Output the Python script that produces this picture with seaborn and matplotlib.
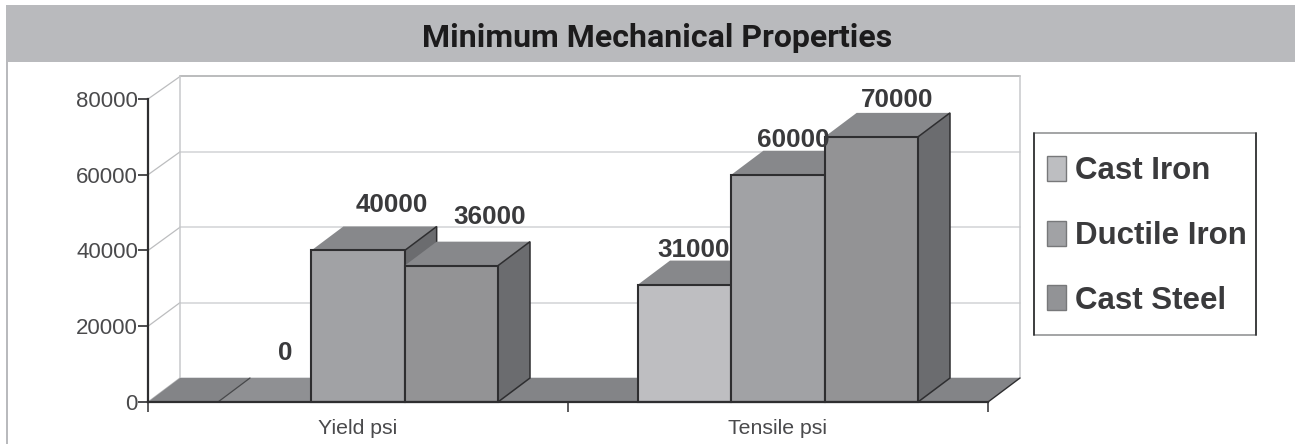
import matplotlib
matplotlib.use("Agg")
import matplotlib.pyplot as plt
from matplotlib.patches import Polygon, Rectangle
from matplotlib.lines import Line2D
from matplotlib.ticker import FixedLocator, NullFormatter
import pandas as pd
import seaborn as sns

# ---- data ----
properties = ["Yield psi", "Tensile psi"]
materials = ["Cast Iron", "Ductile Iron", "Cast Steel"]
cast_iron = [0, 31000]
ductile_iron = [40000, 60000]
cast_steel = [36000, 70000]
y_ticks = [0, 20000, 40000, 60000, 80000]

# ---- styles ----
W, H = 1295, 444
front_colors = ["#bdbec1", "#a1a2a5", "#929396"]
top_color = "#87888b"
side_color = "#6b6c6f"
floor_color = "#838487"
edge = "#2e2e30"
wall = "#d9dadc"
text_c = "#3a3a3c"
depth_px = (32, 24)
wall_scale = 301.5 / 303
# label offset from the bar's top-centre, in pixels (x right, y up)
label_offsets = {
    "Cast Iron": [(21, 49), (9, 35)],
    "Ductile Iron": [(34, 46), (15, 35)],
    "Cast Steel": [(38, 49), (26, 37)],
}

sns.set_theme(style="white")
plt.rcParams["font.family"] = ["Liberation Sans", "DejaVu Sans"]

fig = plt.figure(figsize=(W / 100, H / 100), dpi=100, facecolor="white")
ax = fig.add_axes([148 / W, 1 - 402 / H, 840 / W, 303 / H])
ax.patch.set_alpha(0)

df = pd.DataFrame({
    "Property": properties * 3,
    "Material": [m for m in materials for _ in properties],
    "psi": cast_iron + ductile_iron + cast_steel,
})
sns.barplot(data=df, x="Property", y="psi", hue="Material", hue_order=materials,
            order=properties, palette=front_colors, width=2 / 3, gap=0,
            edgecolor=edge, linewidth=1.5, legend=False, ax=ax, zorder=5)
ax.set_xlim(-0.5, 1.5)
ax.set_ylim(0, 80000)
ax.set_xlabel("")
ax.set_ylabel("")

# pixel depth converted into data units through the axes' scales
x0, x1 = ax.get_xlim()
dx = depth_px[0] * (x1 - x0) / 840
dy = depth_px[1] * 80000 / 303

# back wall, left wall
top_tick = y_ticks[-1]
for v in y_ticks:
    back_y = v * wall_scale + dy
    col = "#b5b6b8" if v == top_tick else wall
    ax.plot([x0 + dx, x1 + dx], [back_y, back_y], color=col, lw=1.3, clip_on=False, zorder=1)
    ax.plot([x0, x0 + dx], [v, back_y], color="#bcbdbf", lw=0.9, clip_on=False, zorder=1)
for xx in (x0 + dx, x1 + dx):
    ax.plot([xx, xx], [dy, top_tick * wall_scale + dy], color="#c8c9cb", lw=1.1, clip_on=False, zorder=1)

# floor
ax.add_patch(Polygon([(x0, 0), (x1, 0), (x1 + dx, dy), (x0 + dx, dy)], closed=True,
                     facecolor=floor_color, edgecolor="none", clip_on=False, zorder=2))
ax.plot([x1, x1 + dx], [0, dy], color=edge, lw=1, clip_on=False, zorder=2.5)

# 3D faces and labels derived from the bars
for h_i, (material, container) in enumerate(zip(materials, ax.containers)):
    for c_i, bar in enumerate(container):
        b_x, b_w, b_h = bar.get_x(), bar.get_width(), bar.get_height()
        z = 5 + h_i + 0.1 * c_i
        bar.set_zorder(z)
        bar.set_clip_on(False)
        if b_h == 0:
            bar.set_linewidth(0)
        top = Polygon([(b_x, b_h), (b_x + b_w, b_h), (b_x + b_w + dx, b_h + dy), (b_x + dx, b_h + dy)],
                      closed=True, facecolor=top_color if b_h else "#8f9093",
                      edgecolor="none", clip_on=False, zorder=z - 0.02)
        ax.add_patch(top)
        if b_h > 0:
            side = Polygon([(b_x + b_w, 0), (b_x + b_w + dx, dy), (b_x + b_w + dx, b_h + dy), (b_x + b_w, b_h)],
                           closed=True, facecolor=side_color, edgecolor=edge, lw=1.1,
                           clip_on=False, zorder=z - 0.01)
            ax.add_patch(side)
        else:
            ax.plot([b_x, b_x + dx], [0, dy], color="#47484a", lw=0.9, clip_on=False, zorder=z)
        off = label_offsets[material][c_i]
        ax.annotate(f"{int(b_h)}", (b_x + b_w / 2, b_h),
                    xytext=(off[0] * 0.72, off[1] * 0.72), textcoords="offset points",
                    ha="center", va="center", fontsize=18.7, fontweight="bold",
                    color=text_c, zorder=20, annotation_clip=False)

# axes
sns.despine(ax=ax, top=True, right=True)
for s in ("left", "bottom"):
    ax.spines[s].set_color(edge)
    ax.spines[s].set_linewidth(1.6)
    ax.spines[s].set_zorder(15)
ax.set_yticks(y_ticks)
ax.set_yticklabels([str(v) for v in y_ticks])
ax.tick_params(axis="y", left=True, length=7.2, width=1.2, color=edge, pad=0,
               labelsize=16, labelcolor="#4a4a4c")
ax.set_xticks(range(len(properties)))
ax.set_xticklabels(properties)
ax.tick_params(axis="x", which="major", bottom=False, length=0, pad=12.5,
               labelsize=15.3, labelcolor="#4a4a4c")
ax.xaxis.set_minor_locator(FixedLocator([-0.5, 0.5, 1.5]))
ax.xaxis.set_minor_formatter(NullFormatter())
ax.tick_params(axis="x", which="minor", bottom=True, length=7, width=1.1, color=edge)

# legend
fig.patches.append(Rectangle((1034 / W, 1 - 335 / H), 222 / W, 202 / H, transform=fig.transFigure,
                             facecolor="white", edgecolor="#8a8b8d", lw=1.1, figure=fig))
for lx in (1034, 1256):
    fig.add_artist(Line2D([lx / W, lx / W], [1 - 335 / H, 1 - 133 / H], transform=fig.transFigure,
                          color=edge, lw=1.2))
handles = [Rectangle((0, 0), 1, 1, facecolor=c, edgecolor="#77787a", lw=1) for c in front_colors]
leg = fig.legend(handles, materials, loc="upper left",
                 bbox_to_anchor=(1047 / W, 1 - 156 / H), bbox_transform=fig.transFigure,
                 frameon=False,
                 prop={"family": "Liberation Sans", "weight": "bold", "size": 22.5},
                 labelcolor=text_c, handlelength=0.61, handleheight=0.85, handletextpad=0.29,
                 labelspacing=1.1, borderpad=0, borderaxespad=0)

# title band
fig.patches.append(Rectangle((6 / W, 1 - 62 / H), (W - 6) / W, 57 / H, transform=fig.transFigure,
                             facecolor="#b9babd", edgecolor="none", figure=fig))
fig.patches.append(Rectangle((6 / W, 0), 2 / W, 1 - 62 / H, transform=fig.transFigure,
                             facecolor="#b9babd", edgecolor="none", figure=fig))
fig.text(657 / W, 1 - 38 / H, "Minimum Mechanical Properties", ha="center", va="center",
         fontsize=23, fontweight="bold", color="#1c1b1c",
         family=["Roboto", "Liberation Sans"])

fig.savefig("out.png", dpi=100)
